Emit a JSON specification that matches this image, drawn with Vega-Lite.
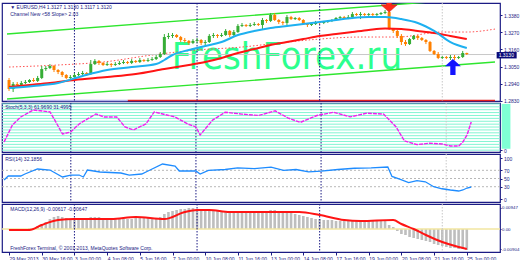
{
"$schema":"https://vega.github.io/schema/vega-lite/v6.json",
"padding":{"left":0,"top":1,"right":0,"bottom":0},
"background":"white",
"spacing":2,
"bounds":"flush",
"config":{"view":{"stroke":"#1b1b84","strokeWidth":1.2},"axis":{"labelFontSize":5,"labelFont":"Liberation Sans","labelColor":"#1b1b84","tickColor":"#1b1b84","tickSize":2,"domain":false,"grid":false,"labelPadding":1.5,"zindex":1,"labelOverlap":false,"labelBound":false},"text":{"font":"Liberation Sans"}},
"datasets":{
"candles":[
{"i":0,"o":1.2964,"h":1.2977,"l":1.2894,"c":1.2906},{"i":1,"o":1.2906,"h":1.2951,"l":1.2887,"c":1.2938},{"i":2,"o":1.2938,"h":1.2951,"l":1.2919,"c":1.2932},{"i":3,"o":1.2932,"h":1.2958,"l":1.2926,"c":1.2945},{"i":4,"o":1.2945,"h":1.2964,"l":1.2938,"c":1.2951},{"i":5,"o":1.2951,"h":1.2970,"l":1.2945,"c":1.2964},{"i":6,"o":1.2964,"h":1.2977,"l":1.2951,"c":1.2958},{"i":7,"o":1.2958,"h":1.2990,"l":1.2951,"c":1.2977},{"i":8,"o":1.2977,"h":1.3054,"l":1.2970,"c":1.3034},{"i":9,"o":1.3034,"h":1.3054,"l":1.3022,"c":1.3041},
{"i":10,"o":1.3041,"h":1.3066,"l":1.3034,"c":1.3054},{"i":11,"o":1.3054,"h":1.3060,"l":1.3015,"c":1.3028},{"i":12,"o":1.3028,"h":1.3034,"l":1.3002,"c":1.3015},{"i":13,"o":1.3015,"h":1.3022,"l":1.2983,"c":1.2996},{"i":14,"o":1.2996,"h":1.3002,"l":1.2970,"c":1.2977},{"i":15,"o":1.2977,"h":1.2996,"l":1.2964,"c":1.2983},{"i":16,"o":1.2983,"h":1.3009,"l":1.2977,"c":1.2996},{"i":17,"o":1.2996,"h":1.3015,"l":1.2990,"c":1.3002},{"i":18,"o":1.3002,"h":1.3022,"l":1.2996,"c":1.3009},{"i":19,"o":1.3009,"h":1.3015,"l":1.2990,"c":1.3002},
{"i":20,"o":1.3002,"h":1.3092,"l":1.2996,"c":1.3066},{"i":21,"o":1.3066,"h":1.3098,"l":1.3060,"c":1.3086},{"i":22,"o":1.3086,"h":1.3092,"l":1.3060,"c":1.3073},{"i":23,"o":1.3073,"h":1.3079,"l":1.3054,"c":1.3060},{"i":24,"o":1.3060,"h":1.3079,"l":1.3054,"c":1.3066},{"i":25,"o":1.3066,"h":1.3073,"l":1.3047,"c":1.3060},{"i":26,"o":1.3060,"h":1.3079,"l":1.3054,"c":1.3066},{"i":27,"o":1.3066,"h":1.3086,"l":1.3060,"c":1.3073},{"i":28,"o":1.3073,"h":1.3092,"l":1.3066,"c":1.3079},{"i":29,"o":1.3079,"h":1.3086,"l":1.3066,"c":1.3073},
{"i":30,"o":1.3073,"h":1.3098,"l":1.3066,"c":1.3086},{"i":31,"o":1.3086,"h":1.3092,"l":1.3073,"c":1.3079},{"i":32,"o":1.3079,"h":1.3105,"l":1.3073,"c":1.3092},{"i":33,"o":1.3092,"h":1.3098,"l":1.3079,"c":1.3086},{"i":34,"o":1.3086,"h":1.3105,"l":1.3079,"c":1.3092},{"i":35,"o":1.3092,"h":1.3111,"l":1.3086,"c":1.3098},{"i":36,"o":1.3098,"h":1.3124,"l":1.3092,"c":1.3111},{"i":37,"o":1.3111,"h":1.3143,"l":1.3105,"c":1.3130},{"i":38,"o":1.3130,"h":1.3258,"l":1.3124,"c":1.3239},{"i":39,"o":1.3239,"h":1.3265,"l":1.3226,"c":1.3246},
{"i":40,"o":1.3246,"h":1.3265,"l":1.3233,"c":1.3252},{"i":41,"o":1.3252,"h":1.3258,"l":1.3233,"c":1.3239},{"i":42,"o":1.3239,"h":1.3246,"l":1.3207,"c":1.3220},{"i":43,"o":1.3220,"h":1.3233,"l":1.3201,"c":1.3214},{"i":44,"o":1.3214,"h":1.3220,"l":1.3188,"c":1.3201},{"i":45,"o":1.3201,"h":1.3226,"l":1.3194,"c":1.3214},{"i":46,"o":1.3214,"h":1.3233,"l":1.3201,"c":1.3220},{"i":47,"o":1.3220,"h":1.3226,"l":1.3188,"c":1.3201},{"i":48,"o":1.3201,"h":1.3220,"l":1.3188,"c":1.3207},{"i":49,"o":1.3207,"h":1.3258,"l":1.3201,"c":1.3246},
{"i":50,"o":1.3246,"h":1.3265,"l":1.3233,"c":1.3252},{"i":51,"o":1.3252,"h":1.3258,"l":1.3233,"c":1.3246},{"i":52,"o":1.3246,"h":1.3265,"l":1.3239,"c":1.3252},{"i":53,"o":1.3252,"h":1.3290,"l":1.3246,"c":1.3278},{"i":54,"o":1.3278,"h":1.3284,"l":1.3239,"c":1.3252},{"i":55,"o":1.3252,"h":1.3284,"l":1.3246,"c":1.3271},{"i":56,"o":1.3271,"h":1.3322,"l":1.3265,"c":1.3310},{"i":57,"o":1.3310,"h":1.3329,"l":1.3303,"c":1.3316},{"i":58,"o":1.3316,"h":1.3322,"l":1.3303,"c":1.3310},{"i":59,"o":1.3310,"h":1.3329,"l":1.3303,"c":1.3316},
{"i":60,"o":1.3316,"h":1.3335,"l":1.3310,"c":1.3322},{"i":61,"o":1.3322,"h":1.3329,"l":1.3310,"c":1.3316},{"i":62,"o":1.3316,"h":1.3361,"l":1.3290,"c":1.3348},{"i":63,"o":1.3348,"h":1.3354,"l":1.3329,"c":1.3342},{"i":64,"o":1.3342,"h":1.3393,"l":1.3335,"c":1.3380},{"i":65,"o":1.3380,"h":1.3393,"l":1.3342,"c":1.3348},{"i":66,"o":1.3348,"h":1.3354,"l":1.3322,"c":1.3335},{"i":67,"o":1.3335,"h":1.3342,"l":1.3316,"c":1.3329},{"i":68,"o":1.3329,"h":1.3380,"l":1.3316,"c":1.3367},{"i":69,"o":1.3367,"h":1.3374,"l":1.3348,"c":1.3354},
{"i":70,"o":1.3354,"h":1.3367,"l":1.3348,"c":1.3361},{"i":71,"o":1.3361,"h":1.3367,"l":1.3342,"c":1.3348},{"i":72,"o":1.3348,"h":1.3354,"l":1.3316,"c":1.3322},{"i":73,"o":1.3322,"h":1.3329,"l":1.3303,"c":1.3316},{"i":74,"o":1.3316,"h":1.3335,"l":1.3310,"c":1.3322},{"i":75,"o":1.3322,"h":1.3342,"l":1.3316,"c":1.3335},{"i":76,"o":1.3335,"h":1.3342,"l":1.3322,"c":1.3329},{"i":77,"o":1.3329,"h":1.3342,"l":1.3322,"c":1.3335},{"i":78,"o":1.3335,"h":1.3348,"l":1.3329,"c":1.3342},{"i":79,"o":1.3342,"h":1.3354,"l":1.3335,"c":1.3348},
{"i":80,"o":1.3348,"h":1.3367,"l":1.3342,"c":1.3361},{"i":81,"o":1.3361,"h":1.3374,"l":1.3354,"c":1.3367},{"i":82,"o":1.3367,"h":1.3374,"l":1.3354,"c":1.3361},{"i":83,"o":1.3361,"h":1.3380,"l":1.3354,"c":1.3367},{"i":84,"o":1.3367,"h":1.3399,"l":1.3354,"c":1.3386},{"i":85,"o":1.3386,"h":1.3393,"l":1.3374,"c":1.3380},{"i":86,"o":1.3380,"h":1.3399,"l":1.3354,"c":1.3386},{"i":87,"o":1.3386,"h":1.3393,"l":1.3374,"c":1.3380},{"i":88,"o":1.3380,"h":1.3393,"l":1.3374,"c":1.3386},{"i":89,"o":1.3386,"h":1.3393,"l":1.3374,"c":1.3380},
{"i":90,"o":1.3380,"h":1.3393,"l":1.3374,"c":1.3386},{"i":91,"o":1.3386,"h":1.3399,"l":1.3380,"c":1.3393},{"i":92,"o":1.3393,"h":1.3412,"l":1.3386,"c":1.3399},{"i":93,"o":1.3399,"h":1.3444,"l":1.3284,"c":1.3290},{"i":94,"o":1.3290,"h":1.3297,"l":1.3265,"c":1.3278},{"i":95,"o":1.3278,"h":1.3284,"l":1.3233,"c":1.3246},{"i":96,"o":1.3246,"h":1.3258,"l":1.3188,"c":1.3207},{"i":97,"o":1.3207,"h":1.3220,"l":1.3182,"c":1.3194},{"i":98,"o":1.3194,"h":1.3233,"l":1.3188,"c":1.3226},{"i":99,"o":1.3226,"h":1.3252,"l":1.3220,"c":1.3246},
{"i":100,"o":1.3246,"h":1.3252,"l":1.3220,"c":1.3233},{"i":101,"o":1.3233,"h":1.3239,"l":1.3214,"c":1.3220},{"i":102,"o":1.3220,"h":1.3226,"l":1.3194,"c":1.3207},{"i":103,"o":1.3207,"h":1.3214,"l":1.3143,"c":1.3150},{"i":104,"o":1.3150,"h":1.3156,"l":1.3124,"c":1.3130},{"i":105,"o":1.3130,"h":1.3143,"l":1.3098,"c":1.3105},{"i":106,"o":1.3105,"h":1.3118,"l":1.3098,"c":1.3111},{"i":107,"o":1.3111,"h":1.3118,"l":1.3098,"c":1.3105},{"i":108,"o":1.3105,"h":1.3124,"l":1.3092,"c":1.3111},{"i":109,"o":1.3111,"h":1.3124,"l":1.3092,"c":1.3105},
{"i":110,"o":1.3105,"h":1.3118,"l":1.3098,"c":1.3111},{"i":111,"o":1.3111,"h":1.3150,"l":1.3105,"c":1.3137},{"i":112,"o":1.3137,"h":1.3139,"l":1.3124,"c":1.3130}
],
"blue":[{"i":0,"v":1.2913},{"i":6,"v":1.2926},{"i":12,"v":1.2945},{"i":18,"v":1.2990},{"i":24,"v":1.3028},{"i":30,"v":1.3047},{"i":36,"v":1.3066},{"i":38,"v":1.3092},{"i":40,"v":1.3124},{"i":44,"v":1.3156},{"i":48,"v":1.3182},{"i":52,"v":1.3207},{"i":56,"v":1.3252},{"i":60,"v":1.3278},{"i":64,"v":1.3297},{"i":68,"v":1.3310},{"i":72,"v":1.3322},{"i":76,"v":1.3335},{"i":80,"v":1.3348},{"i":84,"v":1.3361},{"i":88,"v":1.3367},{"i":92,"v":1.3367},{"i":96,"v":1.3354},{"i":100,"v":1.3329},{"i":104,"v":1.3278},{"i":108,"v":1.3207},{"i":112,"v":1.3169}],
"red":[{"i":0,"v":1.2919},{"i":5,"v":1.2932},{"i":10,"v":1.2945},{"i":16,"v":1.2964},{"i":24,"v":1.2983},{"i":31,"v":1.3002},{"i":38,"v":1.3034},{"i":44,"v":1.3060},{"i":48,"v":1.3079},{"i":52,"v":1.3105},{"i":56,"v":1.3137},{"i":60,"v":1.3162},{"i":64,"v":1.3188},{"i":68,"v":1.3207},{"i":72,"v":1.3226},{"i":76,"v":1.3246},{"i":80,"v":1.3258},{"i":84,"v":1.3271},{"i":88,"v":1.3284},{"i":92,"v":1.3293},{"i":96,"v":1.3290},{"i":100,"v":1.3278},{"i":104,"v":1.3265},{"i":108,"v":1.3246},{"i":112,"v":1.3226}],
"dot":[{"i":0,"v":1.3047},{"i":12,"v":1.3060},{"i":23,"v":1.3079},{"i":35,"v":1.3124},{"i":46,"v":1.3156},{"i":57,"v":1.3175},{"i":66,"v":1.3201},{"i":76,"v":1.3226},{"i":86,"v":1.3239},{"i":95,"v":1.3239},{"i":106,"v":1.3271},{"i":112,"v":1.3271},{"i":118.9,"v":1.3290}],
"chan":[{"s":"up","i":-0.5,"v":1.3258},{"s":"up","i":118.9,"v":1.3495},{"s":"lo","i":-0.5,"v":1.2842},{"s":"lo","i":118.9,"v":1.3079}],
"seps":[{"i":16},{"i":46},{"i":76},{"i":106}],
"stoch":[{"i":0,"v":17.7},{"i":2,"v":54.5},{"i":4,"v":71.8},{"i":7,"v":87},{"i":11,"v":82.6},{"i":12,"v":67.5},{"i":14,"v":35},{"i":16,"v":39.4},{"i":18,"v":56.7},{"i":20,"v":67.5},{"i":22,"v":78.3},{"i":24,"v":71.8},{"i":27,"v":71.8},{"i":29,"v":50.2},{"i":31,"v":43.7},{"i":34,"v":56.7},{"i":36,"v":82.6},{"i":39,"v":76.1},{"i":41,"v":71.8},{"i":44,"v":56.7},{"i":46,"v":50.2},{"i":47,"v":32.9},{"i":50,"v":65},{"i":53,"v":82},{"i":57,"v":78},{"i":61,"v":75},{"i":65,"v":85},{"i":68,"v":70},{"i":71,"v":60},{"i":75,"v":75},{"i":79,"v":82},{"i":83,"v":72},{"i":87,"v":80},{"i":91,"v":78},{"i":94,"v":50},{"i":96,"v":20},{"i":99,"v":12},{"i":102,"v":15},{"i":105,"v":13.4},{"i":107,"v":9.1},{"i":109,"v":9.1},{"i":110,"v":17.7},{"i":111,"v":32.9},{"i":112,"v":61}],
"levels":[{"v":0},{"v":6.25},{"v":12.5},{"v":18.75},{"v":25},{"v":31.25},{"v":37.5},{"v":43.75},{"v":50},{"v":56.25},{"v":62.5},{"v":68.75},{"v":75},{"v":81.25},{"v":87.5},{"v":93.75},{"v":100}],
"rsi":[{"i":0,"v":46.3},{"i":1,"v":56.1},{"i":4,"v":56.1},{"i":5,"v":61},{"i":8,"v":73.2},{"i":11,"v":70.7},{"i":14,"v":53.7},{"i":16,"v":58.5},{"i":18,"v":58.5},{"i":19,"v":53.7},{"i":20,"v":70.7},{"i":23,"v":65.9},{"i":28,"v":63.4},{"i":30,"v":58.5},{"i":33,"v":61},{"i":35,"v":70.7},{"i":38,"v":85.4},{"i":41,"v":80.5},{"i":42,"v":68.3},{"i":46,"v":68.3},{"i":47,"v":61},{"i":49,"v":70},{"i":53,"v":72},{"i":56,"v":76},{"i":60,"v":74},{"i":64,"v":78},{"i":67,"v":70},{"i":70,"v":72},{"i":73,"v":66},{"i":76,"v":68},{"i":80,"v":72},{"i":84,"v":75},{"i":88,"v":76},{"i":92,"v":78},{"i":93,"v":55},{"i":95,"v":48},{"i":97,"v":40},{"i":99,"v":45},{"i":101,"v":42},{"i":103,"v":30},{"i":105,"v":25},{"i":107,"v":22},{"i":109,"v":19.5},{"i":110,"v":22},{"i":111,"v":26.8},{"i":112,"v":29.3}],
"rsilev":[{"v":30},{"v":50},{"v":70}],
"hist":[{"i":0,"v":-0.00045},{"i":1,"v":-0.00045},{"i":2,"v":-0.00045},{"i":3,"v":0},{"i":4,"v":0},{"i":5,"v":0.00045},{"i":6,"v":0.00045},{"i":7,"v":0.00135},{"i":8,"v":0.00225},{"i":9,"v":0.00315},{"i":10,"v":0.0045},{"i":11,"v":0.0054},{"i":12,"v":0.00585},{"i":13,"v":0.0054},{"i":14,"v":0.00495},{"i":15,"v":0.0045},{"i":16,"v":0.0045},{"i":17,"v":0.0045},{"i":18,"v":0.0045},{"i":19,"v":0.0045},{"i":20,"v":0.0054},{"i":21,"v":0.0054},{"i":22,"v":0.0054},{"i":23,"v":0.00495},{"i":24,"v":0.00495},{"i":25,"v":0.00495},{"i":26,"v":0.0045},{"i":27,"v":0.0045},{"i":28,"v":0.0045},{"i":29,"v":0.0045},{"i":30,"v":0.0045},{"i":31,"v":0.00495},{"i":32,"v":0.00495},{"i":33,"v":0.00495},{"i":34,"v":0.00495},{"i":35,"v":0.00495},{"i":36,"v":0.00495},{"i":37,"v":0.0054},{"i":38,"v":0.00675},{"i":39,"v":0.00765},{"i":40,"v":0.0081},{"i":41,"v":0.00855},{"i":42,"v":0.009},{"i":43,"v":0.009},{"i":44,"v":0.00945},{"i":45,"v":0.00945},{"i":46,"v":0.009},{"i":47,"v":0.009},{"i":48,"v":0.00855},{"i":49,"v":0.00855},{"i":50,"v":0.00855},{"i":51,"v":0.00855},{"i":52,"v":0.0081},{"i":53,"v":0.0081},{"i":54,"v":0.0081},{"i":55,"v":0.0081},{"i":56,"v":0.0081},{"i":57,"v":0.0081},{"i":58,"v":0.0081},{"i":59,"v":0.0081},{"i":60,"v":0.0081},{"i":61,"v":0.0081},{"i":62,"v":0.0081},{"i":63,"v":0.0081},{"i":64,"v":0.00855},{"i":65,"v":0.00855},{"i":66,"v":0.0081},{"i":67,"v":0.00765},{"i":68,"v":0.00765},{"i":69,"v":0.0072},{"i":70,"v":0.00675},{"i":71,"v":0.0063},{"i":72,"v":0.00585},{"i":73,"v":0.0054},{"i":74,"v":0.00495},{"i":75,"v":0.0045},{"i":76,"v":0.0045},{"i":77,"v":0.00405},{"i":78,"v":0.00405},{"i":79,"v":0.00405},{"i":80,"v":0.0036},{"i":81,"v":0.0036},{"i":82,"v":0.0036},{"i":83,"v":0.0036},{"i":84,"v":0.0036},{"i":85,"v":0.0036},{"i":86,"v":0.0036},{"i":87,"v":0.0036},{"i":88,"v":0.0036},{"i":89,"v":0.0036},{"i":90,"v":0.0036},{"i":91,"v":0.0036},{"i":92,"v":0.0036},{"i":93,"v":0.0018},{"i":94,"v":0.0009},{"i":95,"v":-0.0009},{"i":96,"v":-0.00225},{"i":97,"v":-0.0027},{"i":98,"v":-0.0036},{"i":99,"v":-0.00405},{"i":100,"v":-0.0045},{"i":101,"v":-0.00495},{"i":102,"v":-0.0054},{"i":103,"v":-0.00585},{"i":104,"v":-0.00675},{"i":105,"v":-0.0072},{"i":106,"v":-0.00765},{"i":107,"v":-0.0081},{"i":108,"v":-0.00855},{"i":109,"v":-0.00855},{"i":110,"v":-0.009},{"i":111,"v":-0.009},{"i":112,"v":-0.00945}],
"sig":[{"i":0,"v":-0.00045},{"i":5,"v":-0.00045},{"i":8,"v":0.0018},{"i":12,"v":0.00405},{"i":16,"v":0.0045},{"i":25,"v":0.0045},{"i":31,"v":0.0054},{"i":38,"v":0.0045},{"i":43,"v":0.00765},{"i":46,"v":0.00855},{"i":49,"v":0.00855},{"i":54,"v":0.00765},{"i":62,"v":0.00765},{"i":71,"v":0.00765},{"i":76,"v":0.0063},{"i":82,"v":0.00405},{"i":86,"v":0.0036},{"i":94,"v":0.00405},{"i":96,"v":0.00225},{"i":99,"v":0},{"i":102,"v":-0.0027},{"i":106,"v":-0.00585},{"i":110,"v":-0.0081},{"i":112,"v":-0.009}],
"arrows":[{"t":"down","i":93,"v":1.3450},{"t":"up","i":108.6,"v":1.3047}]
},
"vconcat":[
{"width":498,"height":98,
"layer":[
{"data":{"name":"candles"},"mark":{"type":"rule","strokeWidth":1,"opacity":0},"encoding":{"x":{"field":"i","type":"quantitative","scale":{"domain":[-0.5,118.9],"nice":false,"zero":false},"axis":null},"y":{"field":"l","type":"quantitative","scale":{"domain":[1.28296,1.34568],"nice":false,"zero":false},"axis":{"orient":"right","values":[1.283,1.294,1.305,1.316,1.327,1.338],"tickCount":30,"format":".4f","title":null,"labelOverlap":false}},"y2":{"field":"h"}}},
{"data":{"values":[{"t":"FreshForex.ru"}]},"mark":{"type":"text","font":"Liberation Sans Narrow, DejaVu Sans Condensed, Liberation Sans","fontSize":38,"fill":"#2cff8e","align":"center","baseline":"alphabetic"},"encoding":{"x":{"datum":68,"type":"quantitative","axis":null},"y":{"datum":1.3034,"type":"quantitative"},"text":{"field":"t"}}},
{"data":{"name":"chan"},"mark":{"type":"line","color":"#2ee62e","strokeWidth":1.4,"clip":true},"encoding":{"x":{"field":"i","type":"quantitative","axis":null},"y":{"field":"v","type":"quantitative"},"detail":{"field":"s"}}},
{"data":{"name":"dot"},"mark":{"type":"line","color":"#ff5050","strokeWidth":1,"strokeDash":[1.5,2],"interpolate":"monotone"},"encoding":{"x":{"field":"i","type":"quantitative","axis":null},"y":{"field":"v","type":"quantitative"}}},
{"data":{"values":[{}]},"mark":{"type":"rule","color":"#c8c8c8","strokeWidth":1},"encoding":{"x":{"datum":-0.5,"type":"quantitative","axis":null},"x2":{"datum":118.9},"y":{"datum":1.3127,"type":"quantitative"}}},
{"data":{"values":[{}]},"mark":{"type":"rule","color":"#e02020","strokeWidth":1.5},"encoding":{"x":{"datum":29,"type":"quantitative","axis":null},"x2":{"datum":118.9},"y":{"datum":1.2833,"type":"quantitative"}}},
{"data":{"values":[{}]},"mark":{"type":"rule","color":"#b4b4e6","strokeWidth":1.5},"encoding":{"x":{"datum":-0.5,"type":"quantitative","axis":null},"x2":{"datum":29},"y":{"datum":1.2833,"type":"quantitative"}}},
{"data":{"name":"seps"},"mark":{"type":"rule","strokeDash":[1.5,1.5],"strokeWidth":1},"encoding":{"x":{"field":"i","type":"quantitative","axis":null},"color":{"condition":{"test":"datum.i>100","value":"#c8c8c8"},"value":"#1b1b84"}}},
{"data":{"name":"candles"},"mark":{"type":"rule","strokeWidth":1},"encoding":{"x":{"field":"i","type":"quantitative","axis":null},"y":{"field":"l","type":"quantitative"},"y2":{"field":"h"},"color":{"condition":{"test":"datum.c>=datum.o","value":"#36ad36"},"value":"#ff8000"}}},
{"data":{"name":"candles"},"mark":{"type":"bar","size":3},"encoding":{"x":{"field":"i","type":"quantitative","axis":null},"y":{"field":"o","type":"quantitative"},"y2":{"field":"c"},"color":{"condition":{"test":"datum.c>=datum.o","value":"#36ad36"},"value":"#ff8000"}}},
{"data":{"name":"red"},"mark":{"type":"line","color":"#ff1414","strokeWidth":2,"interpolate":"monotone"},"encoding":{"x":{"field":"i","type":"quantitative","axis":null},"y":{"field":"v","type":"quantitative"}}},
{"data":{"name":"blue"},"mark":{"type":"line","color":"#1eb0f0","strokeWidth":2,"interpolate":"monotone"},"encoding":{"x":{"field":"i","type":"quantitative","axis":null},"y":{"field":"v","type":"quantitative"}}},
{"data":{"name":"arrows"},"transform":[{"filter":"datum.t=='up'"}],"mark":{"type":"point","shape":"M0,-1L1,-0.1L0.33,-0.1L0.33,1L-0.33,1L-0.33,-0.1L-1,-0.1Z","size":256,"filled":true,"fill":"#1414ff","opacity":1},"encoding":{"x":{"field":"i","type":"quantitative","axis":null},"y":{"field":"v","type":"quantitative"}}},
{"data":{"name":"arrows"},"transform":[{"filter":"datum.t=='down'"}],"mark":{"type":"point","shape":"M0,1L1,0.1L0.33,0.1L0.33,-1L-0.33,-1L-0.33,0.1L-1,0.1Z","size":256,"filled":true,"fill":"#ff2a1a","stroke":"#c01010","strokeWidth":0.5,"opacity":1,"clip":true},"encoding":{"x":{"field":"i","type":"quantitative","axis":null},"y":{"field":"v","type":"quantitative"}}},
{"data":{"values":[{}]},"mark":{"type":"rect","fill":"#0a0a78"},"encoding":{"x":{"datum":119.3,"type":"quantitative","axis":null},"x2":{"datum":124.2},"y":{"datum":1.3143,"type":"quantitative"},"y2":{"datum":1.3102}}},
{"data":{"values":[{"t":"1.3130"}]},"mark":{"type":"text","fill":"white","fontSize":5,"align":"left","baseline":"middle","dx":2},"encoding":{"x":{"datum":119.3,"type":"quantitative","axis":null},"y":{"datum":1.3123,"type":"quantitative"},"text":{"field":"t"}}},
{"data":{"values":[{"t":"\u25bc EURUSD,H4  1.3127 1.3130 1.3117 1.3120","v":1.3431},{"t":"Channel New <58 Slope> 2.03","v":1.3386}]},"mark":{"type":"text","fill":"#1b1b84","fontSize":5,"align":"left","baseline":"middle","dx":2},"encoding":{"x":{"datum":-0.2,"type":"quantitative","axis":null},"y":{"field":"v","type":"quantitative"},"text":{"field":"t"}}}
]},
{"width":498,"height":49,
"layer":[
{"data":{"name":"levels"},"mark":{"type":"rule","color":"#82f5d2","strokeWidth":1},"encoding":{"y":{"field":"v","type":"quantitative","scale":{"domain":[-4,102],"nice":false,"zero":false},"axis":{"orient":"right","values":[0],"tickCount":30,"title":null}}}},
{"data":{"name":"seps"},"mark":{"type":"rule","strokeDash":[1.5,1.5],"strokeWidth":1},"encoding":{"x":{"field":"i","type":"quantitative","scale":{"domain":[-0.5,118.9],"nice":false,"zero":false},"axis":null},"color":{"condition":{"test":"datum.i>100","value":"#c8c8c8"},"value":"#1b1b84"}}},
{"data":{"name":"stoch"},"mark":{"type":"line","color":"#f020f0","strokeWidth":1.4,"strokeDash":[4,1]},"encoding":{"x":{"field":"i","type":"quantitative","axis":null},"y":{"field":"v","type":"quantitative"}}},
{"data":{"values":[{}]},"mark":{"type":"rect","fill":"#7fffd4"},"encoding":{"x":{"datum":119.3,"type":"quantitative","axis":null},"x2":{"datum":121.4},"y":{"datum":3,"type":"quantitative"},"y2":{"datum":100}}},
{"data":{"values":[{"t":"Stoch(5,3,3) 61.9690 31.4995"}]},"mark":{"type":"text","fill":"#1b1b84","fontSize":5,"align":"left","baseline":"middle","dx":2},"encoding":{"x":{"datum":-0.2,"type":"quantitative","axis":null},"y":{"datum":93,"type":"quantitative"},"text":{"field":"t"}}}
]},
{"width":498,"height":48,
"layer":[
{"data":{"name":"rsilev"},"mark":{"type":"rule","color":"#b8b8b8","strokeWidth":1,"strokeDash":[2,2]},"encoding":{"y":{"field":"v","type":"quantitative","scale":{"domain":[-7.3,109.8],"nice":false,"zero":false},"axis":{"orient":"right","values":[0,30,50,70,100],"tickCount":30,"title":null,"labelOverlap":false}}}},
{"data":{"name":"seps"},"mark":{"type":"rule","strokeDash":[1.5,1.5],"strokeWidth":1},"encoding":{"x":{"field":"i","type":"quantitative","scale":{"domain":[-0.5,118.9],"nice":false,"zero":false},"axis":null},"color":{"condition":{"test":"datum.i>100","value":"#c8c8c8"},"value":"#1b1b84"}}},
{"data":{"name":"rsi"},"mark":{"type":"line","color":"#1e8cff","strokeWidth":1.3},"encoding":{"x":{"field":"i","type":"quantitative","axis":null},"y":{"field":"v","type":"quantitative"}}},
{"data":{"values":[{"t":"RSI(14) 32.1856"}]},"mark":{"type":"text","fill":"#1b1b84","fontSize":5,"align":"left","baseline":"middle","dx":2},"encoding":{"x":{"datum":-0.2,"type":"quantitative","axis":null},"y":{"datum":97.6,"type":"quantitative"},"text":{"field":"t"}}}
]},
{"width":498,"height":48,
"layer":[
{"data":{"name":"hist"},"mark":{"type":"bar","size":2.6,"color":"#bebebe"},"encoding":{"x":{"field":"i","type":"quantitative","scale":{"domain":[-0.5,118.9],"nice":false,"zero":false},"axis":{"orient":"bottom","values":[0,8,16,24,32,40,48,56,64,72,80,88,96,104,112],"tickCount":30,"labelExpr":"['29 May 2013','30 May 16:00','3 Jun 00:00','4 Jun 08:00','5 Jun 16:00','7 Jun 00:00','10 Jun 08:00','11 Jun 16:00','13 Jun 00:00','14 Jun 08:00','17 Jun 16:00','19 Jun 00:00','20 Jun 08:00','21 Jun 16:00','25 Jun 00:00'][datum.value/8]","labelAlign":"left","labelPadding":1,"tickSize":3,"labelFlush":false,"labelOverlap":false,"title":null}},"y":{"field":"v","type":"quantitative","scale":{"domain":[-0.01035,0.01125],"nice":false,"zero":false},"axis":{"orient":"right","values":[-0.00904,0,0.00947],"tickCount":30,"labelExpr":"datum.value==0?'0.00':(datum.value>0?'0.00947':'-0.00904')","title":null,"labelFontSize":4.4,"labelPadding":0.5,"tickSize":1,"labelOverlap":false}}}},
{"data":{"values":[{}]},"mark":{"type":"rule","color":"#f2e6a0","strokeWidth":1.5},"encoding":{"y":{"datum":0,"type":"quantitative"}}},
{"data":{"name":"seps"},"mark":{"type":"rule","strokeDash":[1.5,1.5],"strokeWidth":1},"encoding":{"x":{"field":"i","type":"quantitative"},"color":{"condition":{"test":"datum.i>100","value":"#c8c8c8"},"value":"#1b1b84"}}},
{"data":{"name":"sig"},"mark":{"type":"line","color":"#ff1414","strokeWidth":2,"interpolate":"monotone"},"encoding":{"x":{"field":"i","type":"quantitative"},"y":{"field":"v","type":"quantitative"}}},
{"data":{"values":[{"t":"MACD(12,26,9) -0.00617 -0.00647","v":0.009},{"t":"FreshForex Terminal, \u00a9 2001-2013, MetaQuotes Software Corp.","v":-0.0086}]},"mark":{"type":"text","fill":"#1b1b84","fontSize":5,"align":"left","baseline":"middle","dx":2},"encoding":{"x":{"datum":-0.2,"type":"quantitative"},"y":{"field":"v","type":"quantitative"},"text":{"field":"t"}}}
]}
]
}
